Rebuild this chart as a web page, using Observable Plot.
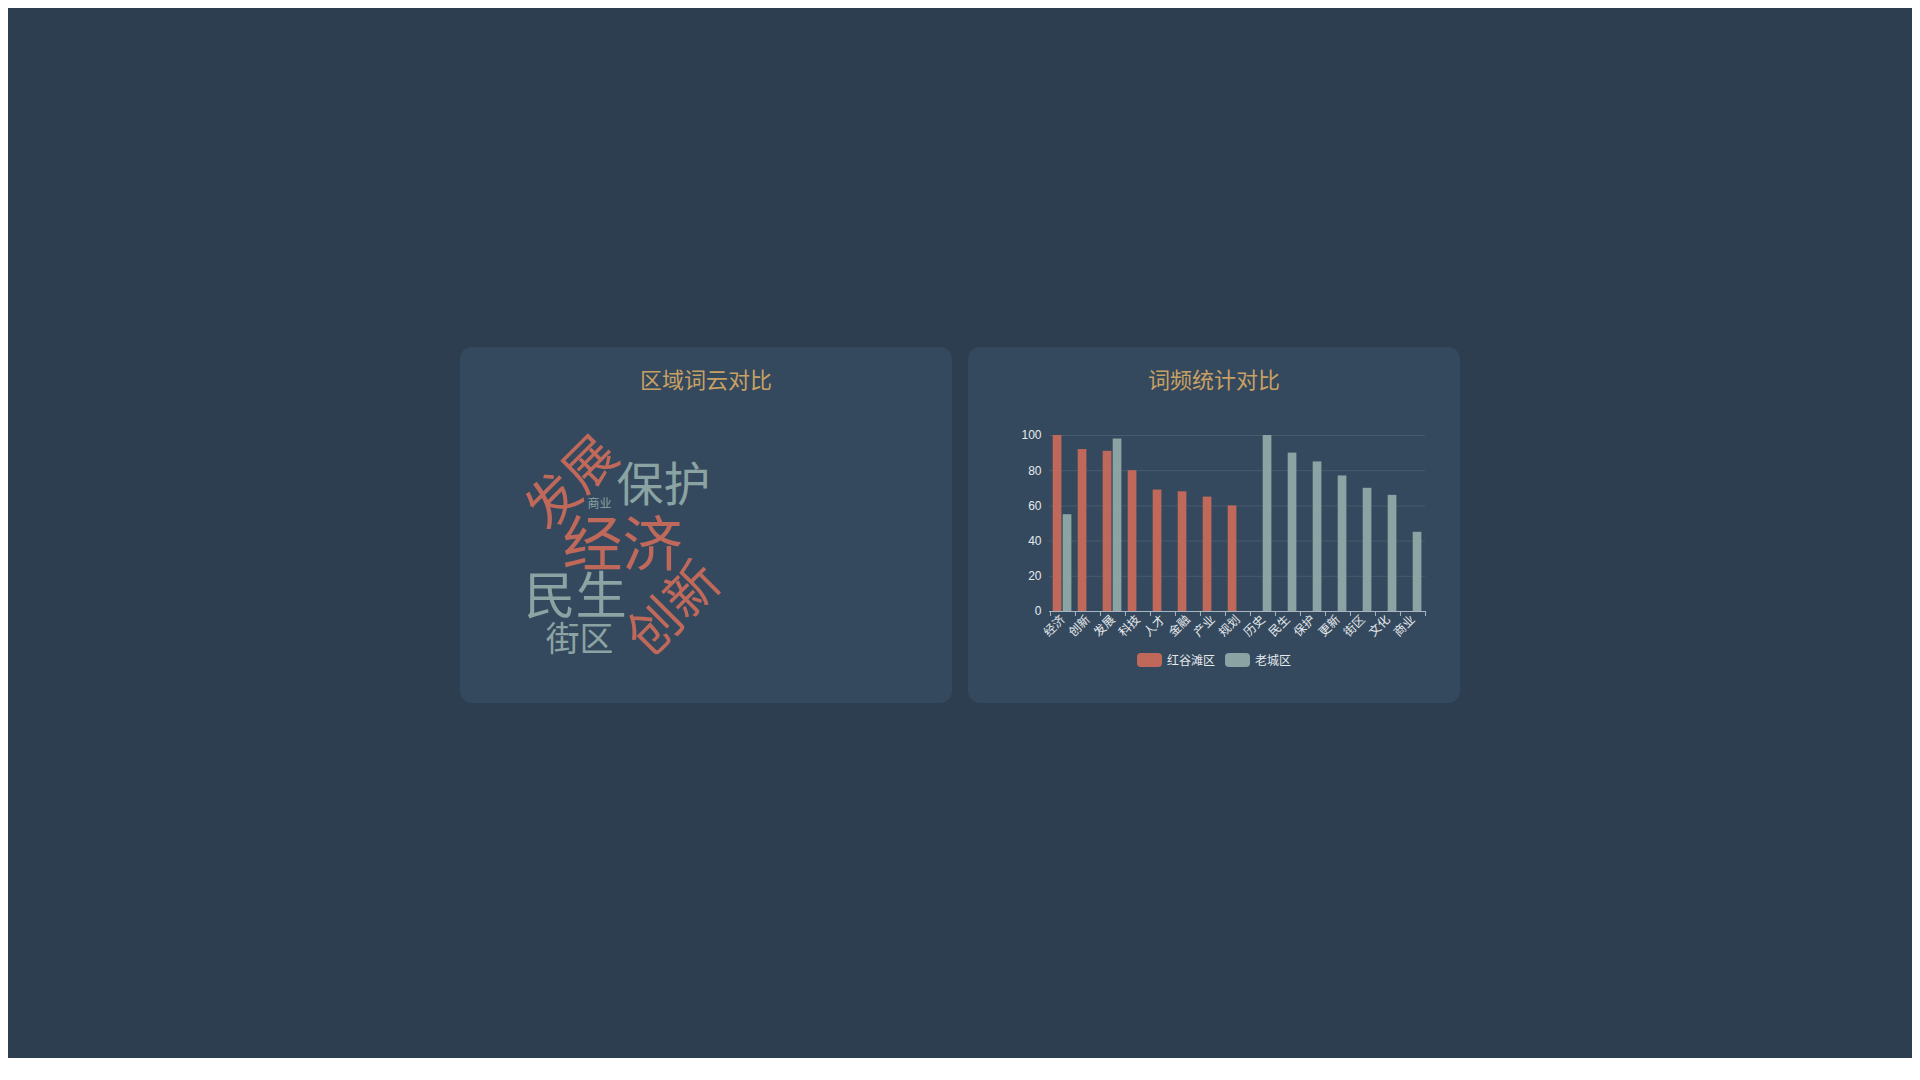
<!DOCTYPE html>
<html>
<head>
<meta charset="utf-8">
<script src="https://cdn.jsdelivr.net/npm/d3@7"></script>
<script src="https://cdn.jsdelivr.net/npm/@observablehq/plot@0.6"></script>
<style>
  html, body { margin: 0; padding: 0; background: #ffffff; }
  body { margin: 8px; }
  #page { position: relative; width: 1904px; height: 1050px; background: #2c3e50; overflow: hidden; }
  .card { position: absolute; top: 339px; width: 492px; height: 356px; background: #34495e; border-radius: 12px; }
  .card svg { position: absolute; left: 0; top: 0; }
  .title { position: absolute; left: 0; right: 0; top: 18px; text-align: center; color: #c9a063;
           font-family: "Noto Sans CJK SC", sans-serif; font-size: 22px; line-height: 26px; z-index: 2; }
  .legend { position: absolute; left: 0; right: 0; top: 304px; display: flex; justify-content: center; gap: 10px;
            font-family: "Liberation Sans", "Noto Sans CJK SC", sans-serif; font-size: 12px; color: #e6e9ec; z-index: 2; }
  .legend .item { display: flex; align-items: center; gap: 5px; }
  .legend .sw { width: 25px; height: 14px; border-radius: 4px; }
</style>
</head>
<body>
<div id="page">
  <div class="card" id="cloudCard" style="left:452px"><div class="title">区域词云对比</div></div>
  <div class="card" id="barCard" style="left:960px"><div class="title">词频统计对比</div><div class="legend" id="legend"></div></div>
</div>
<script>
// ---- data ----
const categories = ["经济","创新","发展","科技","人才","金融","产业","规划","历史","民生","保护","更新","街区","文化","商业"];
const hongValues = [100, 92, 91, 80, 69, 68, 65, 60, null, null, null, null, null, null, null];
const laoValues  = [55, null, 98, null, null, null, null, null, 100, 90, 85, 77, 70, 66, 45];
const seriesNames = ["红谷滩区", "老城区"];
const seriesColors = ["#c0695a", "#8ba3a2"];
const yTicks = [0, 20, 40, 60, 80, 100];

// word cloud: words, frequency, region index, layout placement (cloud units) and rotation
const cloudWords  = ["发展", "经济", "保护", "民生", "街区", "创新", "商业"];
const cloudFreq   = [91, 100, 85, 90, 70, 92, 45];
const cloudRegion = [0, 0, 1, 1, 1, 0, 1];
const cloudX      = [112, 162, 203, 115, 119, 214, 139];
const cloudY      = [136, 199, 138, 250, 293, 262, 157];
const cloudRotate = [-45, 0, 0, 0, 0, -45, 0];

const latin = "'Liberation Sans', 'Noto Sans CJK SC', sans-serif";
const axisColor = "#e6e9ec";

// ---- bar chart ----
const hongRows = categories.map((c, i) => ({cat: c, v: hongValues[i]})).filter(d => d.v != null);
const laoRows  = categories.map((c, i) => ({cat: c, v: laoValues[i]})).filter(d => d.v != null);
const W = 492, H = 356, mL = 81, mR = 35, mT = 88, mB = 92;
const bw = (W - mL - mR) / categories.length;

const bar = Plot.plot({
  width: W, height: H,
  marginLeft: mL, marginRight: mR, marginTop: mT, marginBottom: mB,
  style: {background: "transparent", fontFamily: latin, fontSize: "12px", overflow: "visible"},
  x: {domain: categories, padding: 0, label: null},
  y: {domain: [0, 100], label: null},
  marks: [
    Plot.gridY(yTicks.slice(1), {stroke: "#ffffff", strokeOpacity: 0.1, strokeWidth: 1}),
    Plot.barY(hongRows, {x: "cat", y: "v", fill: seriesColors[0], insetLeft: 2.7, insetRight: 13.6}),
    Plot.barY(laoRows, {x: "cat", y: "v", fill: seriesColors[1], insetLeft: 12.7, insetRight: 3.6}),
    Plot.ruleY([0], {stroke: "#a9b6c2", strokeWidth: 1}),
    Plot.axisX({tickSize: 5, text: null, dx: -bw / 2, stroke: "#a9b6c2"}),
    Plot.axisX({ticks: [categories[categories.length - 1]], tickSize: 5, text: null, dx: bw / 2, stroke: "#a9b6c2"}),
    Plot.axisX({tickSize: 0, tickPadding: 6, tickRotate: -45, fill: axisColor, fontSize: 12, label: null}),
    Plot.axisY({ticks: yTicks, tickSize: 0, tickPadding: 8, fill: axisColor, fontSize: 12, label: null})
  ]
});
document.getElementById("barCard").appendChild(bar);

const legend = document.getElementById("legend");
seriesNames.forEach((n, i) => {
  const it = document.createElement("div");
  it.className = "item";
  it.innerHTML = `<span class="sw" style="background:${seriesColors[i]}"></span><span>${n}</span>`;
  legend.appendChild(it);
});

// ---- word cloud ----
const words = cloudWords.map((w, i) => ({w, f: cloudFreq[i], r: cloudRegion[i], x: cloudX[i], y: cloudY[i], rot: cloudRotate[i]}));
const sizeScale = d3.scaleLinear().domain([d3.min(cloudFreq), d3.max(cloudFreq)]).range([12, 60]);
const cloud = Plot.plot({
  width: W, height: H, margin: 0,
  style: {background: "transparent", overflow: "visible"},
  x: {domain: [0, W], range: [0, W], axis: null},
  y: {domain: [0, H], range: [0, H], axis: null},
  marks: [0, 1].map(k => Plot.text(words.filter(d => d.r === k), {
    x: "x", y: "y", text: "w", rotate: "rot",
    fontSize: d => sizeScale(d.f),
    fill: seriesColors[k],
    fontFamily: "'Noto Sans CJK SC', sans-serif"
  }))
});
document.getElementById("cloudCard").appendChild(cloud);
</script>
</body>
</html>
